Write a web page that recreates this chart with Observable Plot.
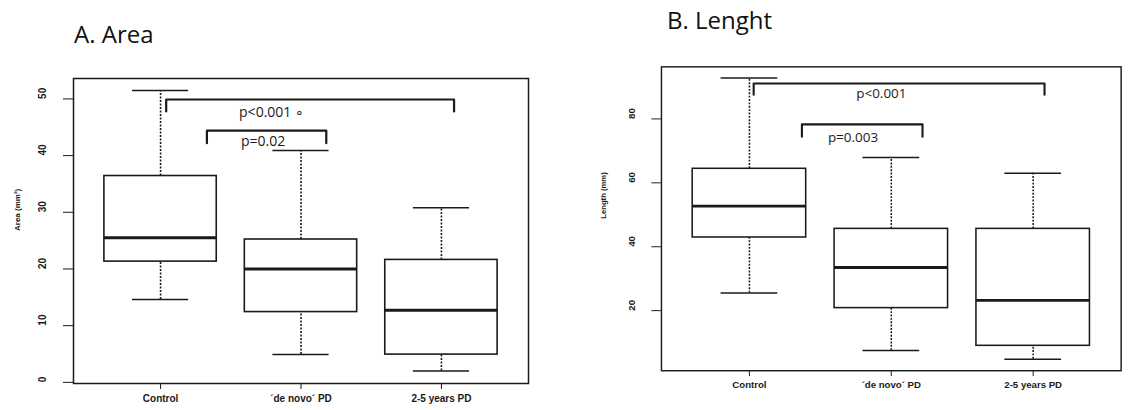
<!DOCTYPE html>
<html>
<head>
<meta charset="utf-8">
<script src="https://cdn.jsdelivr.net/npm/d3@7"></script>
<script src="https://cdn.jsdelivr.net/npm/@observablehq/plot@0.6"></script>
<style>
  html, body { margin: 0; padding: 0; background: #fff; }
  #root { position: relative; width: 1137px; height: 410px; overflow: hidden; background: #fff; }
  .title { position: absolute; font-family: "Open Sans", sans-serif; font-size: 24px; color: #111; line-height: 1; white-space: nowrap; }
  .panel { position: absolute; top: 0; }
</style>
</head>
<body>
<div id="root">
  <div class="title" id="titleA" style="left:74px; top:22px;">A. Area</div>
  <div class="title" id="titleB" style="left:667px; top:8px;">B. Lenght</div>
  <div class="panel" id="panelA" style="left:0px;"></div>
  <div class="panel" id="panelB" style="left:560px;"></div>
</div>
<script>
// Categories
const categories = ["Control", "´de novo´ PD", "2-5 years PD"];

// A. Area (mm²) — box-plot statistics
const areaLower  = [14.6, 4.9, 2.0];
const areaQ1     = [21.3, 12.4, 4.9];
const areaMedian = [25.5, 20.0, 12.7];
const areaQ3     = [36.4, 25.2, 21.6];
const areaUpper  = [51.5, 40.9, 30.8];
const areaTicks  = [0, 10, 20, 30, 40, 50];

// B. Length (mm)
const lengthLower  = [25.5, 7.5, 4.8];
const lengthQ1     = [42.9, 20.8, 9.0];
const lengthMedian = [52.7, 33.5, 23.2];
const lengthQ3     = [64.4, 45.6, 45.6];
const lengthUpper  = [92.8, 67.9, 63.0];
const lengthTicks  = [20, 40, 60, 80];

// Significance brackets (group positions 1..3, values in data units)
const areaPLabels = ["p<0.001 ∘", "p=0.02"];
const areaPFrom   = [1.04, 1.33];
const areaPTo     = [3.09, 2.18];
const areaPTop    = [49.9, 44.4];
const areaPLeg    = [47.8, 42.2];
const areaPTextX  = [1.79, 1.73];
const areaPTextY  = [47.65, 42.4];

const lengthPLabels = ["p<0.001", "p=0.003"];
const lengthPFrom   = [1.03, 1.37];
const lengthPTo     = [3.08, 2.22];
const lengthPTop    = [91.1, 78.3];
const lengthPLeg    = [87.6, 74.4];
const lengthPTextX  = [1.93, 1.73];
const lengthPTextY  = [88.0, 74.0];

const INK = "#1a1a1a";

function panel(opts) {
  const rows = categories.map((c, i) => ({
    x: i + 1, lower: opts.lower[i], q1: opts.q1[i], median: opts.median[i], q3: opts.q3[i], upper: opts.upper[i]
  }));
  const bracketPts = [];
  opts.pLabels.forEach((l, i) => {
    bracketPts.push({id: i, x: opts.pFrom[i], y: opts.pLeg[i]});
    bracketPts.push({id: i, x: opts.pFrom[i], y: opts.pTop[i]});
    bracketPts.push({id: i, x: opts.pTo[i], y: opts.pTop[i]});
    bracketPts.push({id: i, x: opts.pTo[i], y: opts.pLeg[i]});
  });
  const pText = opts.pLabels.map((l, i) => ({label: l, x: opts.pTextX[i], y: opts.pTextY[i]}));
  const bw = 0.4, cw = 0.2;
  return Plot.plot({
    width: opts.width,
    height: 410,
    marginLeft: opts.mL,
    marginRight: opts.mR,
    marginTop: opts.mT,
    marginBottom: opts.mB,
    x: {type: "linear", domain: [0.38, 3.62]},
    y: {type: "linear", domain: opts.domain},
    style: {fontFamily: "'Liberation Sans', Arial, sans-serif", fontSize: "10px", background: "transparent", color: INK, overflow: "visible"},
    marks: [
      Plot.ruleX(rows, {x: "x", y1: "q3", y2: "upper", stroke: INK, strokeWidth: 1.6, strokeDasharray: "2,1.5"}),
      Plot.ruleX(rows, {x: "x", y1: "lower", y2: "q1", stroke: INK, strokeWidth: 1.6, strokeDasharray: "2,1.5"}),
      Plot.ruleY(rows, {y: "upper", x1: d => d.x - cw, x2: d => d.x + cw, stroke: INK, strokeWidth: 1.5}),
      Plot.ruleY(rows, {y: "lower", x1: d => d.x - cw, x2: d => d.x + cw, stroke: INK, strokeWidth: 1.5}),
      Plot.rect(rows, {x1: d => d.x - bw, x2: d => d.x + bw, y1: "q1", y2: "q3", fill: "white", stroke: INK, strokeWidth: 1.6}),
      Plot.ruleY(rows, {y: "median", x1: d => d.x - bw, x2: d => d.x + bw, stroke: INK, strokeWidth: 3}),
      Plot.line(bracketPts, {x: "x", y: "y", z: "id", stroke: INK, strokeWidth: 2.2, curve: "linear"}),
      Plot.text(pText, {x: "x", y: "y", text: "label", fontFamily: "'Open Sans', sans-serif", fontSize: 14, fill: INK}),
      Plot.frame({stroke: INK, strokeWidth: 1.5}),
      Plot.axisX({ticks: [1, 2, 3], tickFormat: d => categories[d - 1], tickSize: 6, tickPadding: 5, fontWeight: "bold", fontSize: 10, label: null, stroke: INK}),
      Plot.axisY({ticks: opts.ticks, tickSize: 10, tickFormat: () => "", label: null, stroke: INK}),
      Plot.text(opts.ticks, {y: d => d, text: d => String(d), frameAnchor: "left", dx: -opts.tickLabelOffset, rotate: -90, fontSize: 10, fontWeight: "bold", fill: INK}),
      Plot.text([opts.ylabel], {text: d => d, frameAnchor: "left", dx: -opts.ylabelOffset, rotate: -90, fontSize: 8, fontWeight: "bold", fill: INK})
    ]
  });
}

document.getElementById("panelA").appendChild(panel({
  lower: areaLower, q1: areaQ1, median: areaMedian, q3: areaQ3, upper: areaUpper,
  ticks: areaTicks, domain: [-0.2, 53.6],
  width: 560, mL: 73, mR: 32, mT: 78, mB: 27,
  ylabel: "Area (mm²)", tickLabelOffset: 31, ylabelOffset: 56,
  pLabels: areaPLabels, pFrom: areaPFrom, pTo: areaPTo, pTop: areaPTop, pLeg: areaPLeg, pTextX: areaPTextX, pTextY: areaPTextY
}));

document.getElementById("panelB").appendChild(panel({
  lower: lengthLower, q1: lengthQ1, median: lengthMedian, q3: lengthQ3, upper: lengthUpper,
  ticks: lengthTicks, domain: [1.2, 96.3],
  width: 600, mL: 105, mR: 17, mT: 69, mB: 25,
  ylabel: "Length (mm)", tickLabelOffset: 31, ylabelOffset: 60,
  pLabels: lengthPLabels, pFrom: lengthPFrom, pTo: lengthPTo, pTop: lengthPTop, pLeg: lengthPLeg, pTextX: lengthPTextX, pTextY: lengthPTextY
}));
</script>
</body>
</html>
